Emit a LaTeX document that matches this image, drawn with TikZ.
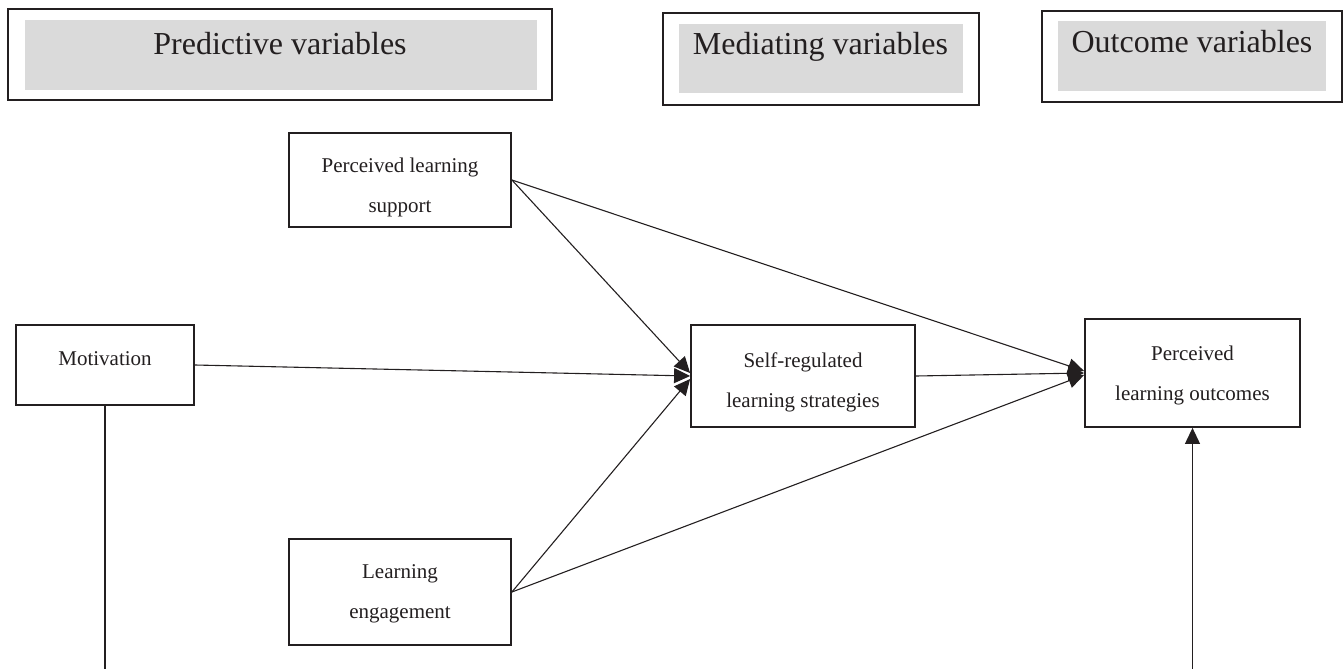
\documentclass[tikz,border=0pt]{standalone}
\usepackage{fontspec}
\setmainfont{Liberation Serif}
\usetikzlibrary{arrows.meta,calc}
\definecolor{hdrgray}{HTML}{DADADA}
\definecolor{ink}{HTML}{231F20}
\begin{document}
\begin{tikzpicture}[x=1pt,y=-1pt,
  hdrout/.style={draw=ink,line width=2pt,inner sep=0pt},
  hdrin/.style={fill=hdrgray,draw=none,inner sep=0pt},
  hdrtxt/.style={anchor=base,inner sep=0pt,font=\fontsize{32}{36}\selectfont,text=ink},
  varbox/.style={draw=ink,line width=1.8pt,inner sep=0pt,fill=white},
  vartxt/.style={anchor=base,inner sep=0pt,align=center,text=ink,
    font=\fontsize{21}{40}\selectfont},
  conn/.style={draw=ink,line width=1.1pt},
  arr/.style={conn,-{Triangle[length=16pt,width=15pt]}}]
\useasboundingbox (0,0) rectangle (1344,669);
% header boxes
\node[hdrout,minimum width=544pt,minimum height=91pt] (predO) at (280,54.5) {};
\node[hdrin,minimum width=512pt,minimum height=70pt] (predI) at (281,55) {};
\node[hdrtxt] (predT) at (280,55) {Predictive variables};
\node[hdrout,minimum width=316pt,minimum height=92pt] (medO) at (821,59) {};
\node[hdrin,minimum width=284pt,minimum height=69pt] (medI) at (821,58.5) {};
\node[hdrtxt] (medT) at (820.5,55) {Mediating variables};
\node[hdrout,minimum width=300pt,minimum height=91pt] (outO) at (1192,56.5) {};
\node[hdrin,minimum width=268pt,minimum height=70pt] (outI) at (1192,56) {};
\node[hdrtxt] (outT) at (1192,53) {Outcome variables};
% variable boxes
\node[varbox,minimum width=222pt,minimum height=94pt] (pls) at (400,180) {};
\node[varbox,minimum width=178pt,minimum height=80pt] (mot) at (105,365) {};
\node[varbox,minimum width=224pt,minimum height=102pt] (srl) at (803,376) {};
\node[varbox,minimum width=215pt,minimum height=108pt] (plo) at (1192.5,373) {};
\node[varbox,minimum width=222pt,minimum height=106pt] (le) at (400,592) {};
% texts (anchor base = baseline of the last line)
\node[vartxt] (plsT) at (400,212) {Perceived learning\\support};
\node[vartxt] (motT) at (105,365) {Motivation};
\node[vartxt] (srlT) at (803,407) {Self-regulated\\learning strategies};
\node[vartxt] (ploT) at (1192.5,400) {Perceived\\learning outcomes};
\node[vartxt] (leT) at (400,618) {Learning\\engagement};
% connectors
\coordinate (motEnd) at (105,669);
\coordinate (ploStart) at (1192.5,669);
\draw[arr] (pls.east) -- ($(srl.west)+(0,-3)$);
\draw[arr] (mot.east) -- (srl.west);
\draw[arr] (le.east) -- ($(srl.west)+(0,3)$);
\draw[arr] (pls.east) -- ($(plo.west)+(0,-2)$);
\draw[arr] (srl.east) -- (plo.west);
\draw[arr] (le.east) -- ($(plo.west)+(0,2)$);
\draw[conn] (mot.south) -- (motEnd);
\draw[arr] (ploStart) -- (plo.south);
\end{tikzpicture}
\end{document}
